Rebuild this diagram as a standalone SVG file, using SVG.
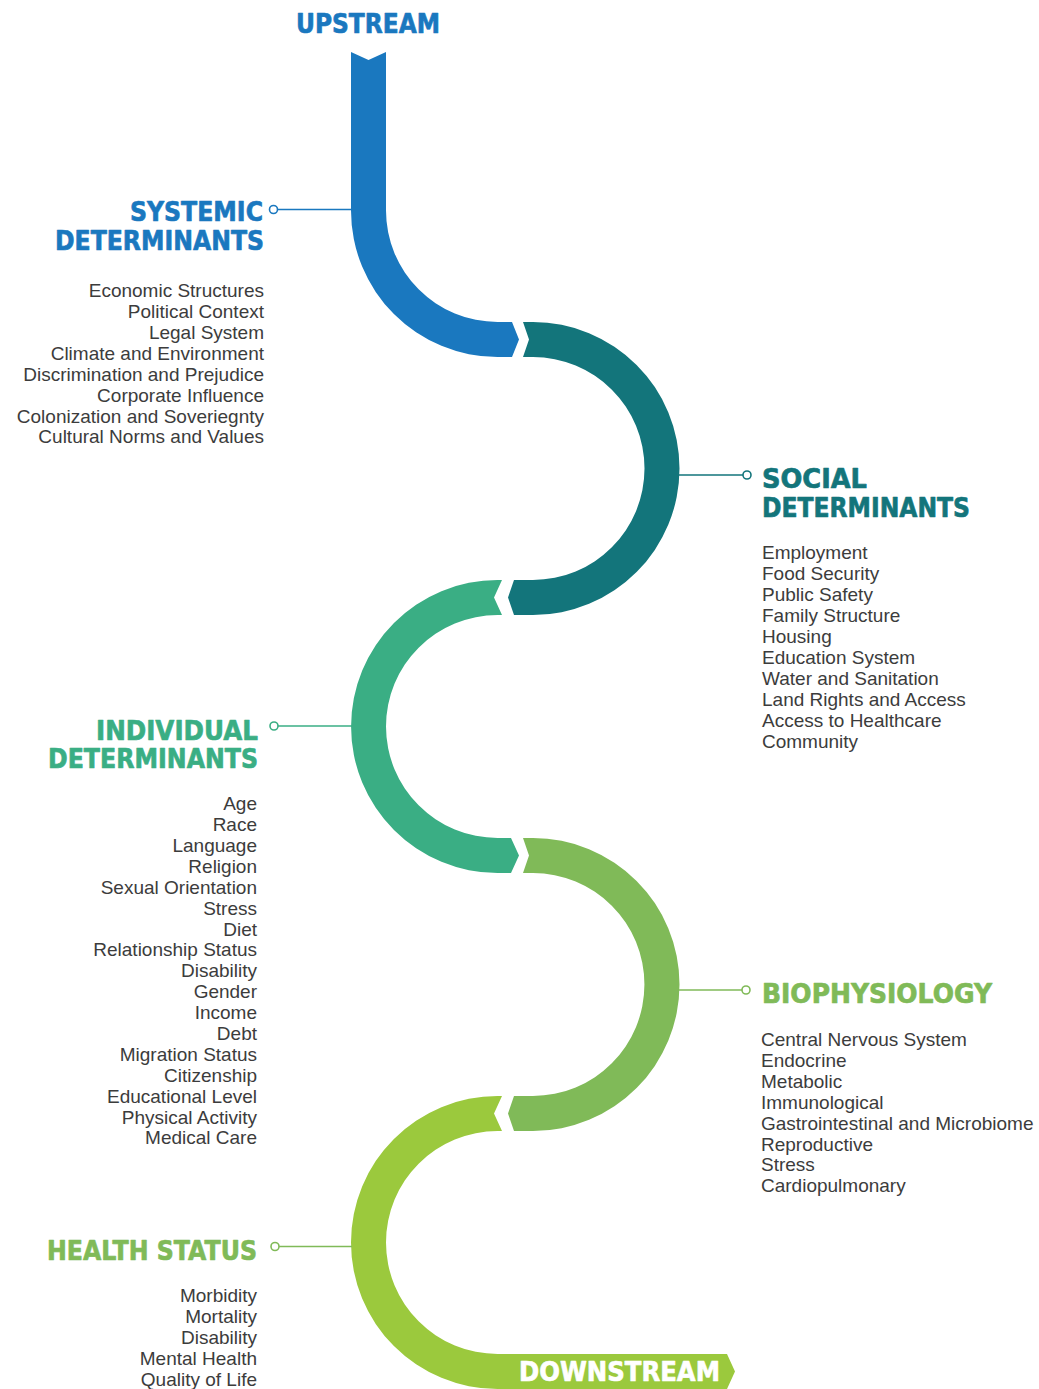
<svg xmlns="http://www.w3.org/2000/svg" width="1039" height="1389" viewBox="0 0 1039 1389">
<style>
.h{font-family:"DejaVu Sans","Liberation Sans",Arial,sans-serif;font-weight:bold;font-size:27px;stroke-width:0.7;stroke-linejoin:round}
.b{font-family:"Liberation Sans",Arial,sans-serif;font-size:19px;fill:#3c3c3c}
.r{text-anchor:end}
.c-blue{fill:#1A78BF;stroke:#1A78BF}.c-teal{fill:#13757B;stroke:#13757B}.c-green{fill:#3AAE84;stroke:#3AAE84}.c-lg{fill:#80BA58;stroke:#80BA58}.c-yg{fill:#9BC93D}
.w{fill:#fff;stroke:#fff}
.ln{fill:none;stroke-width:1.6}
.dot{fill:#fff;stroke-width:1.6}
</style>
<rect width="1039" height="1389" fill="#fff"/>

<g id="flow">
<path fill="#1A78BF" d="M351,52 L368.5,60 L386,52 L386,210.5 A111.5,111.5 0 0 0 497.5,322 L512,322 L519,339.5 L512,357 L497.5,357 A146.5,146.5 0 0 1 351,210.5 Z"/>
<path fill="#13757B" d="M523,322 L533,322 A146.5,146.5 0 0 1 533,615 L514,615 L508,597.5 L514,580 L533,580 A111.5,111.5 0 0 0 533,357 L523,357 L529,339.5 Z"/>
<path fill="#3AAE84" d="M502,580 L497.5,580 A146.5,146.5 0 0 0 497.5,873 L511,873 L519,855.5 L511,838 L497.5,838 A111.5,111.5 0 0 1 497.5,615 L502,615 L494,597.5 Z"/>
<path fill="#80BA58" d="M523,838 L533,838 A146.5,146.5 0 0 1 533,1131 L514,1131 L508,1113.5 L514,1096 L533,1096 A111.5,111.5 0 0 0 533,873 L523,873 L529,855.5 Z"/>
<path fill="#9BC93D" d="M502,1096 L497.5,1096 A146.5,146.5 0 1 0 497.5,1389 L727,1389 L735,1371.5 L727,1354 L497.5,1354 A111.5,111.5 0 1 1 497.5,1131 L502,1131 L494,1113.5 Z"/>
</g>

<g id="connectors">
<line class="ln" stroke="#1A78BF" x1="277.5" y1="209.5" x2="352" y2="209.5"/>
<circle class="dot" stroke="#1A78BF" cx="273.5" cy="209.5" r="4"/>
<line class="ln" stroke="#13757B" x1="679" y1="475" x2="743" y2="475"/>
<circle class="dot" stroke="#13757B" cx="747" cy="475" r="4"/>
<line class="ln" stroke="#3AAE84" x1="278" y1="726" x2="352" y2="726"/>
<circle class="dot" stroke="#3AAE84" cx="274" cy="726" r="4"/>
<line class="ln" stroke="#80BA58" x1="679" y1="990" x2="742" y2="990"/>
<circle class="dot" stroke="#80BA58" cx="746" cy="990" r="4"/>
<line class="ln" stroke="#80BA58" x1="279" y1="1246.5" x2="352" y2="1246.5"/>
<circle class="dot" stroke="#80BA58" cx="275" cy="1246.5" r="4"/>
</g>

<g id="upstream">
<text class="h c-blue" x="296" y="33" textLength="144" lengthAdjust="spacingAndGlyphs">UPSTREAM</text>
</g>

<g id="systemic">
<text class="h c-blue" x="130" y="221" textLength="133" lengthAdjust="spacingAndGlyphs">SYSTEMIC</text>
<text class="h c-blue" x="55" y="250" textLength="209" lengthAdjust="spacingAndGlyphs">DETERMINANTS</text>
<text class="b r" x="264" y="297">Economic Structures</text>
<text class="b r" x="264" y="318">Political Context</text>
<text class="b r" x="264" y="339">Legal System</text>
<text class="b r" x="264" y="360">Climate and Environment</text>
<text class="b r" x="264" y="380.5">Discrimination and Prejudice</text>
<text class="b r" x="264" y="401.5">Corporate Influence</text>
<text class="b r" x="264" y="422.5">Colonization and Soveriegnty</text>
<text class="b r" x="264" y="443">Cultural Norms and Values</text>
</g>

<g id="social">
<text class="h c-teal" x="762" y="488" textLength="105" lengthAdjust="spacingAndGlyphs">SOCIAL</text>
<text class="h c-teal" x="762" y="517" textLength="208" lengthAdjust="spacingAndGlyphs">DETERMINANTS</text>
<text class="b" x="762" y="559">Employment</text>
<text class="b" x="762" y="580">Food Security</text>
<text class="b" x="762" y="601">Public Safety</text>
<text class="b" x="762" y="622">Family Structure</text>
<text class="b" x="762" y="643">Housing</text>
<text class="b" x="762" y="663.5">Education System</text>
<text class="b" x="762" y="684.5">Water and Sanitation</text>
<text class="b" x="762" y="705.5">Land Rights and Access</text>
<text class="b" x="762" y="726.5">Access to Healthcare</text>
<text class="b" x="762" y="747.5">Community</text>
</g>

<g id="individual">
<text class="h c-green" x="96" y="740" textLength="162" lengthAdjust="spacingAndGlyphs">INDIVIDUAL</text>
<text class="h c-green" x="48" y="768" textLength="210" lengthAdjust="spacingAndGlyphs">DETERMINANTS</text>
<text class="b r" x="257" y="810">Age</text>
<text class="b r" x="257" y="831">Race</text>
<text class="b r" x="257" y="852">Language</text>
<text class="b r" x="257" y="872.5">Religion</text>
<text class="b r" x="257" y="893.5">Sexual Orientation</text>
<text class="b r" x="257" y="914.5">Stress</text>
<text class="b r" x="257" y="935.5">Diet</text>
<text class="b r" x="257" y="956">Relationship Status</text>
<text class="b r" x="257" y="977">Disability</text>
<text class="b r" x="257" y="998">Gender</text>
<text class="b r" x="257" y="1019">Income</text>
<text class="b r" x="257" y="1040">Debt</text>
<text class="b r" x="257" y="1061">Migration Status</text>
<text class="b r" x="257" y="1081.5">Citizenship</text>
<text class="b r" x="257" y="1102.5">Educational Level</text>
<text class="b r" x="257" y="1123.5">Physical Activity</text>
<text class="b r" x="257" y="1144">Medical Care</text>
</g>

<g id="biophysiology">
<text class="h c-lg" x="762" y="1003" textLength="230" lengthAdjust="spacingAndGlyphs">BIOPHYSIOLOGY</text>
<text class="b" x="761" y="1046">Central Nervous System</text>
<text class="b" x="761" y="1067">Endocrine</text>
<text class="b" x="761" y="1088">Metabolic</text>
<text class="b" x="761" y="1108.5">Immunological</text>
<text class="b" x="761" y="1129.5">Gastrointestinal and Microbiome</text>
<text class="b" x="761" y="1150.5">Reproductive</text>
<text class="b" x="761" y="1171">Stress</text>
<text class="b" x="761" y="1192">Cardiopulmonary</text>
</g>

<g id="health-status">
<text class="h c-lg" x="47" y="1260" textLength="210" lengthAdjust="spacingAndGlyphs">HEALTH STATUS</text>
<text class="b r" x="257" y="1302">Morbidity</text>
<text class="b r" x="257" y="1323">Mortality</text>
<text class="b r" x="257" y="1344">Disability</text>
<text class="b r" x="257" y="1365">Mental Health</text>
<text class="b r" x="257" y="1386">Quality of Life</text>
</g>

<g id="downstream">
<text class="h w" x="519" y="1381" textLength="201" lengthAdjust="spacingAndGlyphs">DOWNSTREAM</text>
</g>
</svg>
